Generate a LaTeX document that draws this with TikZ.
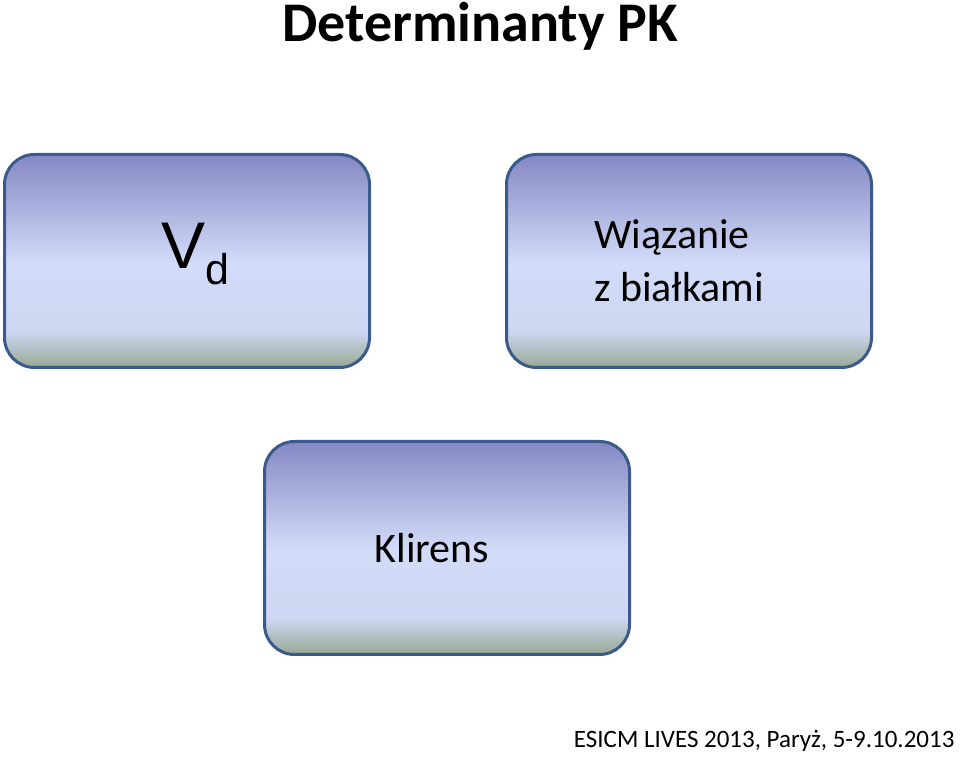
\documentclass[tikz,border=0pt]{standalone}
\usepackage{fontspec}
\setmainfont{Carlito}
\newfontfamily\vdfont{Liberation Sans}
\usetikzlibrary{positioning}
\definecolor{Edge}{HTML}{3A5A8C}
\definecolor{FillTop}{HTML}{8588C4}
\definecolor{FillMid}{HTML}{D2DCF8}
\definecolor{FillLow}{HTML}{CDD7F2}
\definecolor{FillBot}{HTML}{98A894}
\pgfdeclareverticalshading{boxgrad}{100bp}{color(0bp)=(FillBot); color(25bp)=(FillBot);
  color(33.5bp)=(FillLow); color(49.5bp)=(FillMid); color(75bp)=(FillTop); color(100bp)=(FillTop)}

\begin{document}
\begin{tikzpicture}[x=1pt,y=1pt,node distance=134pt,
    box/.style={draw=Edge,line width=3pt,rounded corners=30pt,shading=boxgrad,
      minimum width=365pt,minimum height=213pt,font=\fontsize{42}{53}\selectfont,align=left}]
  \useasboundingbox (0,0) rectangle (960,762);
  \node[font=\fontsize{56}{62}\selectfont\bfseries,anchor=base] (title) at (480,720) {Determinanty PK};
  \node[box] (vd) at (187,501) {\vdfont\fontsize{66}{72}\selectfont V\raisebox{-16pt}[0pt][31pt]{\fontsize{43}{43}\selectfont d}\hspace*{-16pt}};
  \node[box,right=of vd] (wiaz) {Wiązanie\\z białkami\hspace*{20pt}};
  \node[box] (kl) at (447,214) {Klirens\hspace*{30pt}};
  \node[font=\fontsize{25}{29}\selectfont,anchor=base east] (conf) at (958,14) {ESICM LIVES 2013, Paryż, 5-9.10.2013};
\end{tikzpicture}
\end{document}
